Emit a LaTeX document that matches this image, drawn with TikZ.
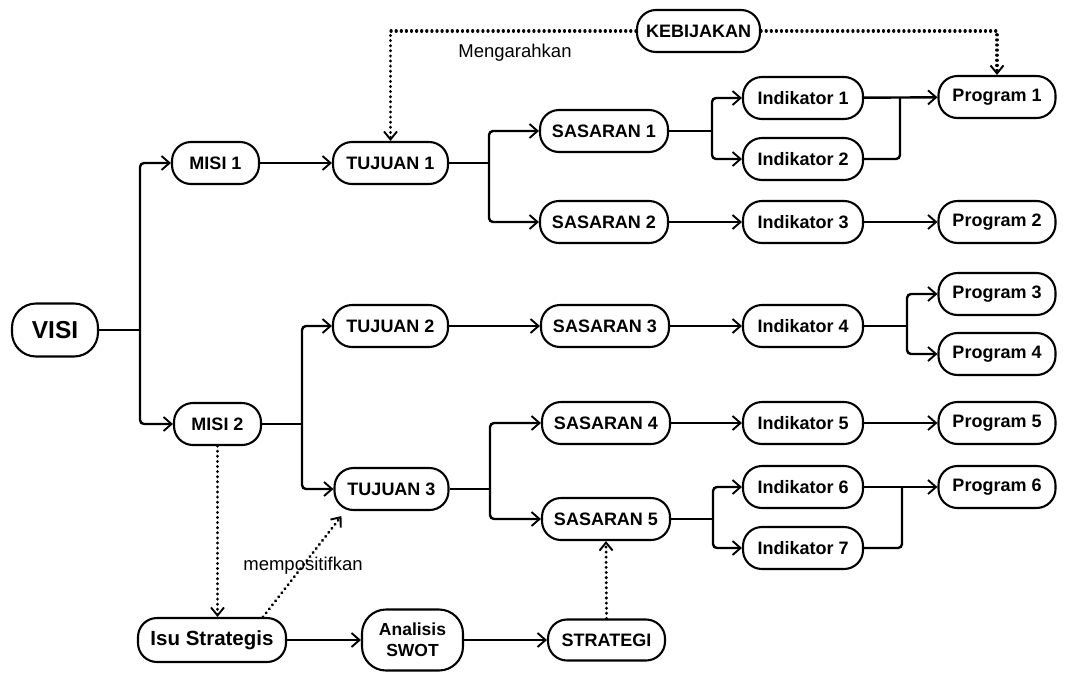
\documentclass[tikz,border=0pt]{standalone}
\usepackage{fontspec}
\setmainfont{Liberation Sans}
\usetikzlibrary{arrows.meta}
\tikzset{
  box/.style={draw, line width=2.1pt, rounded corners=19pt, minimum height=42pt,
    inner sep=2pt, font=\bfseries\fontsize{18}{20}\selectfont},
  link/.style={line width=2.4pt, rounded corners=4pt},
  arr/.style={link, -{Straight Barb[length=8pt,width=14pt,line width=1.9pt]}},
  dots/.style={line width=3.2pt, line cap=round, dash pattern=on 0.1pt off 5pt},
  darr/.style={dots, -{Straight Barb[length=8pt,width=13pt,line width=1.9pt]}},
  lbl/.style={font=\fontsize{18.5}{20}\selectfont, inner sep=0pt}
}
\begin{document}
\begin{tikzpicture}[x=1pt, y=-1pt]
\useasboundingbox (0,0) rectangle (1078,672);

% vision, missions, goals
\node[box, minimum width=86pt, minimum height=53pt, rounded corners=24pt, font=\bfseries\fontsize{24.5}{26}\selectfont] (visi) at (55,330) {VISI};
\node[box, minimum width=87pt] (misi1) at (215.5,163) {MISI 1};
\node[box, minimum width=87pt] (misi2) at (217.5,424) {MISI 2};
\node[box, minimum width=115pt] (tuj1) at (390.5,163) {TUJUAN 1};
\node[box, minimum width=115pt] (tuj2) at (390.5,326) {TUJUAN 2};
\node[box, minimum width=114pt] (tuj3) at (391.5,489) {TUJUAN 3};

% targets
\node[box, minimum width=128pt] (sas1) at (604,131) {SASARAN 1};
\node[box, minimum width=128pt] (sas2) at (604,222) {SASARAN 2};
\node[box, minimum width=128pt] (sas3) at (605,326) {SASARAN 3};
\node[box, minimum width=128pt] (sas4) at (606,423) {SASARAN 4};
\node[box, minimum width=128pt] (sas5) at (606,519) {SASARAN 5};

% indicators
\node[box, minimum width=120pt] (ind1) at (803,98) {Indikator 1};
\node[box, minimum width=120pt] (ind2) at (803,159) {Indikator 2};
\node[box, minimum width=120pt] (ind3) at (803,222) {Indikator 3};
\node[box, minimum width=120pt] (ind4) at (803,326) {Indikator 4};
\node[box, minimum width=120pt] (ind5) at (803,423) {Indikator 5};
\node[box, minimum width=120pt] (ind6) at (803,487) {Indikator 6};
\node[box, minimum width=120pt] (ind7) at (803,548) {Indikator 7};

% programs
\node[box, minimum width=117pt] (prog1) at (997,97) {Program 1};
\node[box, minimum width=117pt] (prog2) at (997,222) {Program 2};
\node[box, minimum width=117pt] (prog3) at (997,294) {Program 3};
\node[box, minimum width=117pt] (prog4) at (997,354) {Program 4};
\node[box, minimum width=117pt] (prog5) at (997,423) {Program 5};
\node[box, minimum width=117pt] (prog6) at (997,487) {Program 6};

% policy and strategy
\node[box, minimum width=123pt] (keb) at (698.5,31) {KEBIJAKAN};
\node[box, minimum width=148pt, minimum height=44pt, font=\bfseries\fontsize{20.5}{22}\selectfont] (isu) at (212,640) {Isu Strategis};
\node[box, minimum width=101pt, minimum height=61pt, rounded corners=24pt, align=center, font=\bfseries\fontsize{17.5}{21}\selectfont] (swot) at (412.5,640) {Analisis\\SWOT};
\node[box, minimum width=117pt, minimum height=41pt] (strat) at (606.5,640) {STRATEGI};

% junction points
\coordinate (j0) at (140,330);
\coordinate (j1) at (302,424);
\coordinate (j2) at (489,163);
\coordinate (j3) at (490,489);
\coordinate (j4) at (712,131);
\coordinate (j5) at (907,326);
\coordinate (j6) at (713,519);
\coordinate (m1) at (900,98);
\coordinate (m2) at (902,487);

% solid connectors
\draw[link] (visi) -- (j0);
\draw[arr] (j0) |- (misi1);
\draw[arr] (j0) |- (misi2);
\draw[arr] (misi1) -- (tuj1);
\draw[link] (misi2) -- (j1);
\draw[arr] (j1) |- (tuj2);
\draw[arr] (j1) |- (tuj3);
\draw[link] (tuj1) -- (j2);
\draw[arr] (j2) |- (sas1);
\draw[arr] (j2) |- (sas2);
\draw[arr] (tuj2) -- (sas3);
\draw[link] (tuj3) -- (j3);
\draw[arr] (j3) |- (sas4);
\draw[arr] (j3) |- (sas5);
\draw[link] (sas1) -- (j4);
\draw[arr] (j4) |- (ind1);
\draw[arr] (j4) |- (ind2);
\draw[arr] (sas2) -- (ind3);
\draw[arr] (sas3) -- (ind4);
\draw[arr] (sas4) -- (ind5);
\draw[link] (sas5) -- (j6);
\draw[arr] (j6) |- (ind6);
\draw[arr] (j6) |- (ind7);
\draw[arr] (ind1) -- (prog1);
\draw[link] (ind2.east) -| (m1);
\draw[arr] (ind3) -- (prog2);
\draw[link] (ind4) -- (j5);
\draw[arr] (j5) |- (prog3);
\draw[arr] (j5) |- (prog4);
\draw[arr] (ind5) -- (prog5);
\draw[arr] (ind6) -- (prog6);
\draw[link] (ind7.east) -| (m2);
\draw[arr] (isu) -- (swot);
\draw[arr] (swot) -- (strat);

% dotted influences
\draw[darr] (keb.west) -| (tuj1.north);
\draw[darr] (keb.east) -| (prog1.north);
\draw[darr] (misi2.south) -- (misi2.south |- isu.north);
\draw[darr] ([xshift=51pt]isu.north) -- ([xshift=8pt,yshift=-5pt]tuj3.south west);
\draw[darr] (strat.north) -- (sas5.south);

% labels
\node[lbl] (lmeng) at (515,53) {Mengarahkan};
\node[lbl] (lpos) at (303,566) {mempositifkan};
\end{tikzpicture}
\end{document}
